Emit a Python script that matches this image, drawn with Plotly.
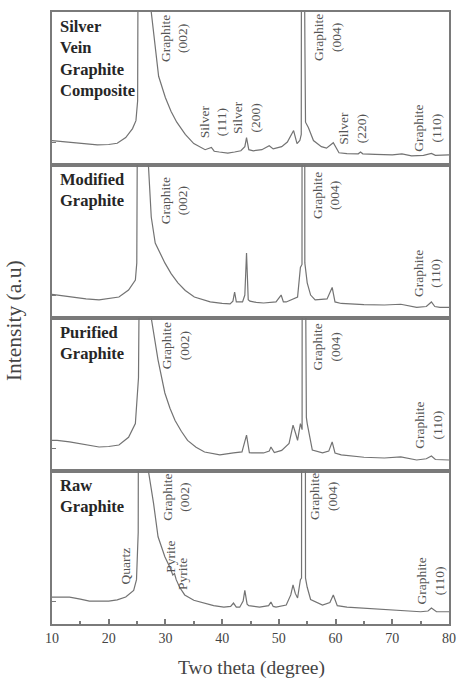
import plotly.graph_objects as go
from plotly.subplots import make_subplots

# ---------------- data (2-theta in degrees, intensity in panel units 0-100) -------------
sv_x = [10.0, 12.0, 14.0, 16.0, 18.0, 20.0, 21.5, 23.0, 24.2, 24.8, 25.1, 25.3, 26.4, 27.5,
        28.2, 28.8, 30.0, 31.0, 32.0, 33.5, 35.0, 37.0, 38.1, 38.6, 39.5, 41.0, 42.2, 43.3,
        44.0, 44.3, 44.7, 45.5, 47.0, 48.3, 49.0, 50.5, 51.5, 52.6, 53.2, 53.7, 53.95, 54.05,
        54.6, 54.7, 55.2, 56.1, 57.5, 58.4, 59.6, 60.6, 62.0, 64.0, 64.4, 64.8, 67.0, 70.0,
        71.7, 73.4, 75.5, 76.9, 77.6, 80.0]
sv_y = [15.9, 15.2, 14.6, 13.8, 13.2, 13.4, 14.2, 17.9, 23.8, 29.0, 42.0, 300, 600, 100,
        75, 58, 44, 35, 28, 20, 14, 10, 11.5, 9.0, 8.5, 7.8, 8.5, 9.3,
        12, 17.9, 10, 9.3, 10, 12.6, 10.5, 12, 15, 22.5, 14, 16, 20, 400,
        75, 28, 24.5, 16, 12, 11, 14.6, 8, 7.5, 7.3, 8.5, 7.3, 7, 6.6,
        7.3, 6, 6.3, 7.6, 6.3, 6.6]

mod_x = [10.0, 10.9, 13.6, 16.0, 18.3, 20.0, 21.8, 23.5, 24.7, 24.95, 25.25, 26.3, 27.0,
         27.5, 28.2, 29.9, 31.0, 32.2, 33.5, 35.1, 37.9, 40.0, 41.4, 41.9, 42.2, 42.5, 43.6,
         44.0, 44.3, 44.6, 44.9, 46.0, 47.3, 49.5, 50.4, 50.8, 51.3, 53.3, 53.8, 54.08, 54.12,
         54.5, 54.58, 55.0, 55.6, 56.4, 58.5, 59.4, 59.9, 61.0, 62.8, 65.0, 68.6, 71.5, 74.3,
         76.0, 76.9, 77.5, 78.4, 80.0]
mod_y = [15.5, 15, 13.7, 12.5, 11.8, 12.5, 13.7, 18.3, 24.8, 36, 300, 600, 100,
         66, 49, 36, 29, 23, 18, 13.7, 10.5, 9.5, 9.2, 11, 17, 10.5, 10.5,
         15, 42.5, 12, 11, 10.2, 9.8, 10.5, 15, 10.5, 10.5, 13.7, 33, 35, 500,
         500, 36, 23, 15, 11.8, 12.5, 20, 10.5, 9.5, 9, 8.8, 8.5, 9, 7,
         7.5, 10.5, 7.5, 7, 7]

pur_x = [10.0, 10.9, 13.1, 15.5, 18.3, 20.0, 21.8, 23.5, 24.7, 25.25, 25.4, 26.4, 27.5,
         28.7, 29.9, 30.8, 31.7, 32.8, 33.9, 35.4, 36.9, 39.6, 42.0, 43.5, 44.3, 44.8, 45.2,
         47.3, 48.3, 48.6, 49.2, 50.5, 51.8, 52.5, 53.0, 53.3, 53.8, 54.1, 54.14, 54.8, 54.85,
         55.0, 55.5, 55.9, 57.7, 58.8, 59.4, 59.9, 61.0, 62.8, 65.0, 68.6, 71.5, 74.3, 76.0,
         76.9, 77.6, 80.0]
pur_y = [20, 20, 19, 17.5, 15.7, 16, 17, 22, 31, 61, 300, 600, 100,
         72.5, 51, 41, 33, 26, 20, 15.5, 12.4, 10.5, 11.8, 12.5, 23.5, 12, 11.8,
         11.8, 13, 15.7, 12, 13.5, 18, 30, 24, 20, 31, 27, 500, 77, 35,
         31, 20, 13.7, 11.8, 13, 19, 11.8, 10.5, 9.8, 9, 8.5, 9.2, 7.2, 8,
         9.8, 7.5, 7.2]

raw_x = [10.0, 13.1, 15.0, 16.6, 20.0, 21.5, 23.0, 24.4, 24.9, 25.2, 25.3, 26.5, 27.0,
         27.9, 28.7, 29.9, 30.8, 31.3, 31.6, 31.9, 32.5, 33.4, 35.0, 36.9, 38.5, 40.3, 41.5,
         42.0, 42.5, 43.1, 43.7, 44.0, 44.4, 44.7, 46.6, 48.2, 48.6, 49.0, 49.5, 51.3, 52.1,
         52.5, 52.9, 53.3, 53.8, 54.0, 54.05, 54.6, 54.7, 55.0, 55.6, 57.7, 59.0, 59.6, 60.3,
         62.0, 64.6, 67.0, 70.3, 73.0, 75.0, 76.3, 76.9, 77.8, 79.8, 80.0]
raw_y = [17.6, 17.6, 16.3, 15, 15, 15.8, 17.6, 22, 29, 60, 300, 600, 100,
         79, 57, 44, 37, 32, 33, 29, 24, 19, 15.5, 13.7, 12, 11, 11.5,
         13.7, 11, 11, 15, 22, 13, 12, 11, 12, 14.4, 11.5, 11, 12.4, 19,
         25.5, 20, 17, 29, 30, 500, 500, 30, 24, 16, 12.4, 14, 19, 12,
         11, 10.5, 9.8, 9.2, 8.5, 8, 8.5, 10.5, 8, 8, 8]

panel_names = ["Silver<br>Vein<br>Graphite<br>Composite",
               "Modified<br>Graphite",
               "Purified<br>Graphite",
               "Raw<br>Graphite"]
series_x = [sv_x, mod_x, pur_x, raw_x]
series_y = [sv_y, mod_y, pur_y, raw_y]

# peak labels: (panel row, label text, 2-theta, intensity)
peak_labels = [
    (1, "Graphite<br>(002)", 31.5, 83),
    (1, "Silver<br>(111)", 38.4, 28),
    (1, "Silver<br>(200)", 44.3, 31),
    (1, "Graphite<br>(004)", 58.5, 83),
    (1, "Silver<br>(220)", 63.0, 24),
    (1, "Graphite<br>(110)", 76.2, 24),
    (2, "Graphite<br>(002)", 31.5, 77),
    (2, "Graphite<br>(004)", 58.4, 80),
    (2, "Graphite<br>(110)", 76.2, 29),
    (3, "Graphite<br>(002)", 31.8, 82),
    (3, "Graphite<br>(004)", 58.4, 81),
    (3, "Graphite<br>(110)", 76.4, 30),
    (4, "Graphite<br>(002)", 31.8, 83),
    (4, "Quartz", 23.0, 38),
    (4, "Pyrite", 31.0, 44),
    (4, "Pyrite", 33.0, 33),
    (4, "Graphite<br>(004)", 57.8, 83),
    (4, "Graphite<br>(110)", 76.7, 28),
]

x_ticks = [10, 20, 30, 40, 50, 60, 70, 80]

SERIF = "Liberation Serif"
LINE_C = "#737373"
FRAME_C = "#7a7a7a"

fig = make_subplots(rows=4, cols=1, shared_xaxes=True, vertical_spacing=0)

for i in range(4):
    fig.add_trace(go.Scatter(x=series_x[i], y=series_y[i], mode="lines",
                             line=dict(color=LINE_C, width=1.2), showlegend=False,
                             hoverinfo="skip"), row=i + 1, col=1)
    fig.update_yaxes(range=[0, 100], showgrid=False, zeroline=False, showline=True,
                     mirror=True, linecolor=FRAME_C, linewidth=2, ticks="inside",
                     tickvals=[15], ticklen=4, tickcolor=FRAME_C, showticklabels=False,
                     row=i + 1, col=1)
    fig.update_xaxes(range=[10, 80], showgrid=False, zeroline=False, showline=True,
                     mirror=True, linecolor=FRAME_C, linewidth=2,
                     row=i + 1, col=1)
    ax = "" if i == 0 else str(i + 1)
    fig.add_annotation(text="<b>" + panel_names[i] + "</b>", xref=f"x{ax} domain",
                       yref=f"y{ax} domain", x=0.015, y=1, xanchor="left", yanchor="top",
                       yshift=-3, showarrow=False, align="left",
                       font=dict(family=SERIF, size=16.5, color="#262626"))

for row, txt, xx, yy in peak_labels:
    ax = "" if row == 1 else str(row)
    fig.add_annotation(text=txt, xref=f"x{ax}", yref=f"y{ax}", x=xx, y=yy,
                       textangle=-90, showarrow=False, align="center",
                       font=dict(family=SERIF, size=13.5, color="#555555"))

fig.update_xaxes(ticks="inside", tickvals=x_ticks, ticklen=5, tickwidth=1.5,
                 tickcolor=FRAME_C, minor=dict(dtick=5, tick0=5, ticks="inside", ticklen=3,
                                              tickcolor=FRAME_C),
                 tickfont=dict(family=SERIF, size=14, color="#444444"), row=4, col=1)
for r in (1, 2, 3):
    fig.update_xaxes(ticks="", showticklabels=False, row=r, col=1)

fig.add_annotation(text="Two theta (degree)", xref="paper", yref="paper", x=0.502, y=0,
                   yanchor="top", yshift=-31, showarrow=False,
                   font=dict(family=SERIF, size=19.5, color="#444444"))
fig.add_annotation(text="Intensity (a.u)", xref="paper", yref="paper", x=0, y=0.495,
                   xanchor="center", xshift=-38, textangle=-90, showarrow=False,
                   font=dict(family=SERIF, size=21.5, color="#444444"))

fig.update_layout(width=462, height=681, margin=dict(l=52, r=6, t=12, b=57),
                  paper_bgcolor="white", plot_bgcolor="white", showlegend=False)

fig.write_html("out.html")
